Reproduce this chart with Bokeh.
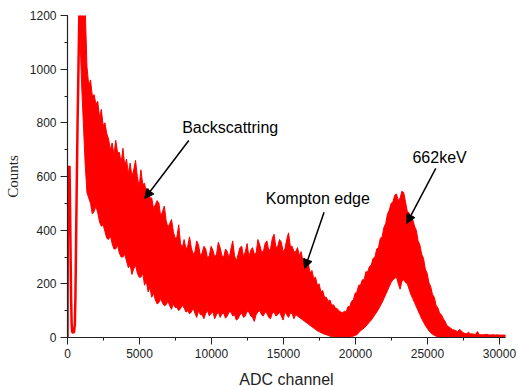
from bokeh.plotting import figure
from bokeh.models import Range1d, Arrow, NormalHead, Label, SingleIntervalTicker
from bokeh.embed import file_html
from bokeh.resources import INLINE

# --- spectrum data -------------------------------------------------------
# leading part of the spectrum (noise spike, valley, rise to the maximum)
lead_channel = [0, 30, 50, 80, 110, 140, 170, 210, 250, 290, 330, 400, 460,
                510, 550, 600, 650, 700, 760, 820, 850]
lead_counts = [0, 510, 380, 640, 600, 640, 520, 330, 150, 50, 20, 18, 22,
               50, 150, 380, 600, 800, 1000, 1200, 1250]

# channel grid of the main body, 125 channels apart
channel = list(range(850, 30601, 125))

# upper edge of the count fluctuations
counts_high = [
    1250, 1250, 1250, 1240, 1010, 940, 960, 900, 905, 870,
    880, 820, 850, 790, 800, 760, 740, 700, 725, 680,
    735, 690, 690, 650, 705, 640, 665, 610, 650, 600,
    625, 660, 600, 560, 625, 570, 575, 540, 555, 520,
    520, 480, 495, 510, 500, 450, 470, 490, 435, 410,
    425, 440, 395, 370, 375, 420, 350, 335, 365, 330,
    340, 375, 335, 310, 320, 360, 345, 305, 315, 340,
    330, 295, 305, 340, 325, 300, 310, 355, 335, 305,
    300, 330, 320, 295, 330, 360, 305, 285, 310, 335,
    340, 300, 320, 350, 300, 325, 335, 310, 315, 365,
    345, 320, 320, 350, 360, 325, 330, 370, 385, 335,
    340, 365, 355, 320, 330, 365, 390, 340, 340, 320,
    320, 335, 305, 320, 285, 295, 265, 275, 240, 250,
    220, 225, 195, 200, 170, 175, 150, 150, 135, 140,
    120, 122, 110, 108, 100, 95, 92, 98, 95, 115,
    115, 135, 140, 165, 170, 195, 195, 215, 215, 245,
    245, 265, 270, 295, 300, 330, 335, 370, 375, 410,
    425, 460, 475, 500, 505, 530, 535, 510, 520, 545,
    540, 505, 470, 465, 445, 440, 415, 400, 360, 345,
    310, 295, 255, 240, 205, 190, 160, 150, 120, 110,
    90, 85, 70, 60, 45, 40, 35, 30, 28, 25,
    22, 30, 25, 18, 15, 14, 20, 13, 14, 12,
    12, 22, 11, 10, 10, 11, 12, 10, 9, 10,
    10, 9, 10, 9, 9, 9, 9, 8, 8,
]

# lower edge of the count fluctuations
counts_low = [
    1150, 950, 800, 650, 540, 520, 500, 460, 470, 490,
    465, 430, 415, 420, 395, 370, 365, 380, 350, 330,
    330, 345, 315, 300, 300, 310, 285, 260, 270, 235,
    255, 270, 240, 225, 225, 240, 195, 210, 170, 185,
    150, 165, 140, 125, 130, 145, 128, 118, 122, 135,
    118, 105, 125, 112, 112, 100, 108, 120, 110, 95,
    100, 88, 95, 110, 90, 75, 100, 85, 85, 70,
    90, 100, 80, 90, 95, 70, 85, 95, 75, 88,
    90, 72, 80, 95, 95, 80, 85, 65, 70, 85,
    90, 75, 80, 98, 95, 80, 75, 60, 85, 95,
    100, 85, 80, 95, 90, 75, 70, 90, 95, 80,
    85, 95, 80, 65, 95, 85, 75, 90, 90, 70,
    85, 80, 75, 70, 65, 60, 55, 50, 45, 40,
    35, 30, 25, 22, 18, 15, 12, 10, 8, 5,
    4, 3, 2, 1, 0, 0, 0, 0, 0, 1,
    2, 4, 5, 8, 10, 18, 25, 30, 35, 42,
    50, 58, 65, 75, 85, 95, 105, 118, 130, 145,
    160, 175, 190, 205, 215, 220, 225, 200, 180, 210,
    215, 205, 200, 180, 160, 145, 130, 115, 100, 85,
    70, 58, 45, 35, 25, 18, 12, 8, 5, 2,
    0, 0, 0, 0, 0, 0, 0, 0, 0, 0,
    0, 0, 0, 0, 0, 0, 0, 0, 0, 0,
    0, 0, 0, 0, 0, 0, 0, 0, 0, 0,
    0, 0, 0, 0, 0, 0, 0, 0, 0,
]

# annotations: text, text anchor (channel, counts), arrow start, arrow tip
notes = [
    ("Backscattring", (7965, 784), (8424, 734), (5368, 518)),
    ("Kompton edge", (13771, 518), (17819, 467), (16479, 257)),
    ("662keV", (23958, 672), (25576, 630), (23563, 425)),
]

RED = "#ff0000"
SANS = "Liberation Sans"

p = figure(
    width=518, height=386,
    frame_width=438, frame_height=322,
    min_border_left=67, min_border_right=13,
    min_border_top=15, min_border_bottom=49,
    x_range=Range1d(0, 30420), y_range=Range1d(0, 1200),
    output_backend="svg", toolbar_location=None,
)
p.outline_line_color = None
p.grid.visible = False
p.background_fill_color = "white"
p.border_fill_color = "white"

# spectrum
p.varea(x=channel, y1=counts_low, y2=counts_high, fill_color=RED)
p.line(channel, counts_high, line_color=RED, line_width=1)
p.line(channel, counts_low, line_color=RED, line_width=1)
p.line(lead_channel, lead_counts, line_color=RED, line_width=2.5)

# annotations with arrows
for text, (tx, ty), (x0, y0), (x1, y1) in notes:
    p.add_layout(Label(x=tx, y=ty, text=text, text_font=SANS,
                       text_font_size="16px", text_color="black",
                       text_baseline="middle", text_align="left"))
    p.add_layout(Arrow(x_start=x0, y_start=y0, x_end=x1, y_end=y1,
                       line_color="black", line_width=1.5,
                       end=NormalHead(size=9, fill_color="black",
                                      line_color="black", line_width=1)))

# axes
p.xaxis.ticker = SingleIntervalTicker(interval=5000, num_minor_ticks=2)
p.yaxis.ticker = SingleIntervalTicker(interval=200, num_minor_ticks=2)
for ax in (p.xaxis, p.yaxis):
    ax.axis_line_color = "#222222"
    ax.axis_line_width = 1.2
    ax.major_tick_line_color = "#222222"
    ax.minor_tick_line_color = "#222222"
    ax.major_tick_in = 0
    ax.major_tick_out = 7
    ax.minor_tick_in = 0
    ax.minor_tick_out = 3
    ax.major_label_text_font = SANS
    ax.major_label_text_font_size = "12px"
    ax.major_label_text_color = "#222222"
    ax.major_label_standoff = 4

p.xaxis.axis_label = "ADC channel"
p.xaxis.axis_label_text_font = SANS
p.xaxis.axis_label_text_font_size = "16px"
p.xaxis.axis_label_text_font_style = "normal"
p.xaxis.axis_label_text_color = "#222222"
p.xaxis.axis_label_standoff = 10

p.yaxis.axis_label = "Counts"
p.yaxis.axis_label_text_font = "Liberation Serif"
p.yaxis.axis_label_text_font_size = "15px"
p.yaxis.axis_label_text_font_style = "normal"
p.yaxis.axis_label_text_color = "#222222"
p.yaxis.axis_label_standoff = 6

open("out.html", "w").write(file_html(p, INLINE))
